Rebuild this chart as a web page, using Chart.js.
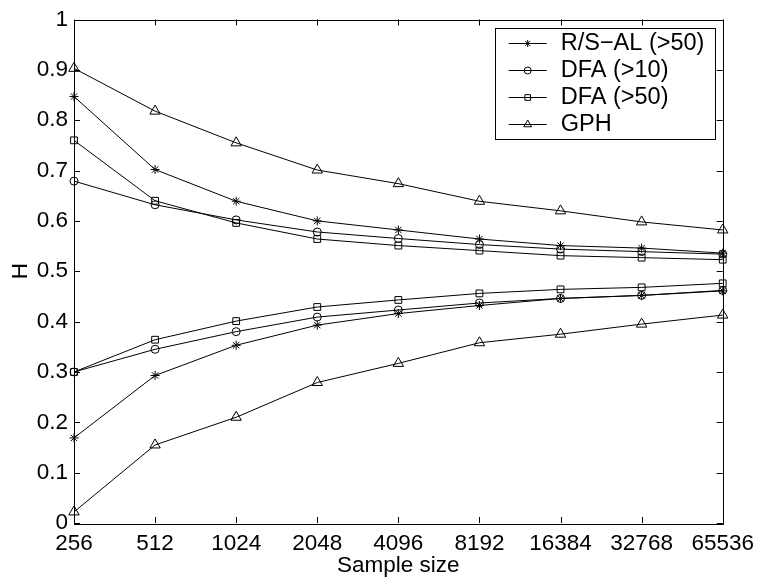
<!DOCTYPE html>
<html lang="en">
<head>
  <meta charset="UTF-8">
  <title>H vs sample size</title>
  <script src="https://cdn.jsdelivr.net/npm/chart.js"></script>
  <style>
    body { margin: 0; background: #fff; }
  </style>
</head>
<body>

  <canvas id="hChart" width="761" height="586"></canvas>

  <script>
    // sample sizes on the x axis (log2 spaced, drawn as categories)
    const sampleSizes = ['256', '512', '1024', '2048', '4096', '8192', '16384', '32768', '65536'];

    // upper and lower bounds of the estimated H
    const rsUpper    = [0.847, 0.702, 0.639, 0.600, 0.582, 0.564, 0.551, 0.546, 0.536];
    const rsLower    = [0.169, 0.293, 0.353, 0.393, 0.416, 0.432, 0.446, 0.452, 0.461];
    const dfa10Upper = [0.679, 0.632, 0.602, 0.578, 0.565, 0.553, 0.544, 0.539, 0.534];
    const dfa10Lower = [0.300, 0.345, 0.380, 0.409, 0.423, 0.437, 0.446, 0.452, 0.462];
    const dfa50Upper = [0.760, 0.640, 0.596, 0.564, 0.551, 0.541, 0.531, 0.527, 0.523];
    const dfa50Lower = [0.300, 0.364, 0.401, 0.429, 0.443, 0.456, 0.464, 0.468, 0.476];
    const gphUpper   = [0.903, 0.818, 0.755, 0.701, 0.674, 0.639, 0.620, 0.598, 0.582];
    const gphLower   = [0.022, 0.155, 0.210, 0.279, 0.317, 0.358, 0.375, 0.395, 0.413];

    const yTicks = [0, 0.1, 0.2, 0.3, 0.4, 0.5, 0.6, 0.7, 0.8, 0.9, 1];

    const FONT = '"Liberation Sans", Arial, Helvetica, sans-serif';

    // one entry per method; each method has an upper and a lower curve
    const methods = [
      { label: 'R/S\u2212AL (>50)', style: 'star',     radius: 4.5, legendRadius: 3.5, upper: rsUpper,    lower: rsLower },
      { label: 'DFA (>10)',         style: 'circle',   radius: 4,   legendRadius: 3.5, upper: dfa10Upper, lower: dfa10Lower },
      { label: 'DFA (>50)',         style: 'rect',     radius: 4.8, legendRadius: 4,   upper: dfa50Upper, lower: dfa50Lower },
      { label: 'GPH',               style: 'triangle', radius: 6,   legendRadius: 4.5, upper: gphUpper,   lower: gphLower }
    ];

    function makeDataset(m, data) {
      return {
        label: m.label,
        data: data,
        borderColor: '#000',
        borderWidth: 1,
        backgroundColor: 'rgba(0,0,0,0)',
        pointStyle: m.style,
        pointRadius: m.radius,
        pointBorderColor: '#000',
        pointBackgroundColor: 'rgba(0,0,0,0)',
        pointBorderWidth: 1,
        tension: 0,
        fill: false,
        clip: false
      };
    }

    const datasets = [];
    methods.forEach(m => {
      datasets.push(makeDataset(m, m.upper));
      datasets.push(makeDataset(m, m.lower));
    });

    // box around the axes with inward tick marks, matlab style
    const boxPlugin = {
      id: 'box',
      afterDatasetsDraw(chart) {
        const ctx = chart.ctx;
        const a = chart.chartArea;
        const xs = chart.scales.x;
        const ys = chart.scales.y;
        const tl = 6;
        ctx.save();
        ctx.strokeStyle = '#000';
        ctx.lineWidth = 1;
        ctx.beginPath();
        xs.ticks.forEach((t, i) => {
          const x = Math.round(xs.getPixelForTick(i)) + 0.5;
          ctx.moveTo(x, a.bottom); ctx.lineTo(x, a.bottom - tl);
          ctx.moveTo(x, a.top); ctx.lineTo(x, a.top + tl);
        });
        ys.ticks.forEach((t, i) => {
          const y = Math.round(ys.getPixelForTick(i)) + 0.5;
          ctx.moveTo(a.left, y); ctx.lineTo(a.left + tl, y);
          ctx.moveTo(a.right, y); ctx.lineTo(a.right - tl, y);
        });
        ctx.stroke();
        ctx.strokeRect(Math.round(a.left) + 0.5, Math.round(a.top) + 0.5,
                       Math.round(a.right - a.left), Math.round(a.bottom - a.top));
        ctx.restore();
      }
    };

    // legend drawn inside the top right corner of the axes
    const legendPlugin = {
      id: 'matLegend',
      afterDraw(chart) {
        const ctx = chart.ctx;
        const a = chart.chartArea;
        const w = 220, h = 111, rowH = 27;
        const x0 = a.right - 8 - w;
        const y0 = a.top + 8;
        ctx.save();
        ctx.fillStyle = '#fff';
        ctx.fillRect(x0, y0, w, h);
        ctx.strokeStyle = '#000';
        ctx.lineWidth = 1;
        ctx.strokeRect(Math.round(x0) + 0.5, Math.round(y0) + 0.5, w, h);
        ctx.font = '23.5px ' + FONT;
        ctx.textBaseline = 'middle';
        ctx.textAlign = 'left';
        methods.forEach((m, i) => {
          const y = y0 + 15 + i * rowH;
          const ly = Math.round(y) + 0.5;
          ctx.beginPath();
          ctx.moveTo(x0 + 14, ly);
          ctx.lineTo(x0 + 52, ly);
          ctx.stroke();
          ctx.fillStyle = 'rgba(0,0,0,0)';
          Chart.helpers.drawPoint(ctx, {
            pointStyle: m.style, radius: m.legendRadius, rotation: 0, borderWidth: 1
          }, x0 + 33, ly);
          ctx.fillStyle = '#000';
          ctx.fillText(m.label, x0 + 66, y + 1);
        });
        ctx.restore();
      }
    };

    const ctx = document.getElementById('hChart').getContext('2d');
    const hChart = new Chart(ctx, {
      type: 'line',
      data: {
        labels: sampleSizes,
        datasets: datasets
      },
      options: {
        responsive: false,
        animation: false,
        layout: { padding: { left: 0, right: 35, top: 9, bottom: 0 } },
        plugins: {
          legend: { display: false },
          tooltip: { enabled: false }
        },
        scales: {
          x: {
            type: 'category',
            offset: false,
            grid: { display: false, drawTicks: false },
            border: { display: false },
            ticks: {
              color: '#000',
              font: { family: FONT, size: 22.5 },
              padding: 7,
              maxRotation: 0,
              autoSkip: false
            },
            title: {
              display: true,
              text: 'Sample size',
              color: '#000',
              font: { family: FONT, size: 22.5 },
              padding: { top: 0, bottom: 7 }
            },
            afterFit: s => { s.height = 63; }
          },
          y: {
            min: 0,
            max: 1,
            afterBuildTicks: s => { s.ticks = yTicks.map(v => ({ value: v })); },
            grid: { display: false, drawTicks: false },
            border: { display: false },
            ticks: {
              color: '#000',
              font: { family: FONT, size: 22.5 },
              padding: 6,
              callback: v => String(+v.toFixed(1))
            },
            title: {
              display: true,
              text: 'H',
              color: '#000',
              font: { family: FONT, size: 22.5 },
              padding: { top: 7, bottom: 0 }
            },
            afterFit: s => { s.width = 74; }
          }
        }
      },
      plugins: [boxPlugin, legendPlugin]
    });
  </script>

</body>
</html>
